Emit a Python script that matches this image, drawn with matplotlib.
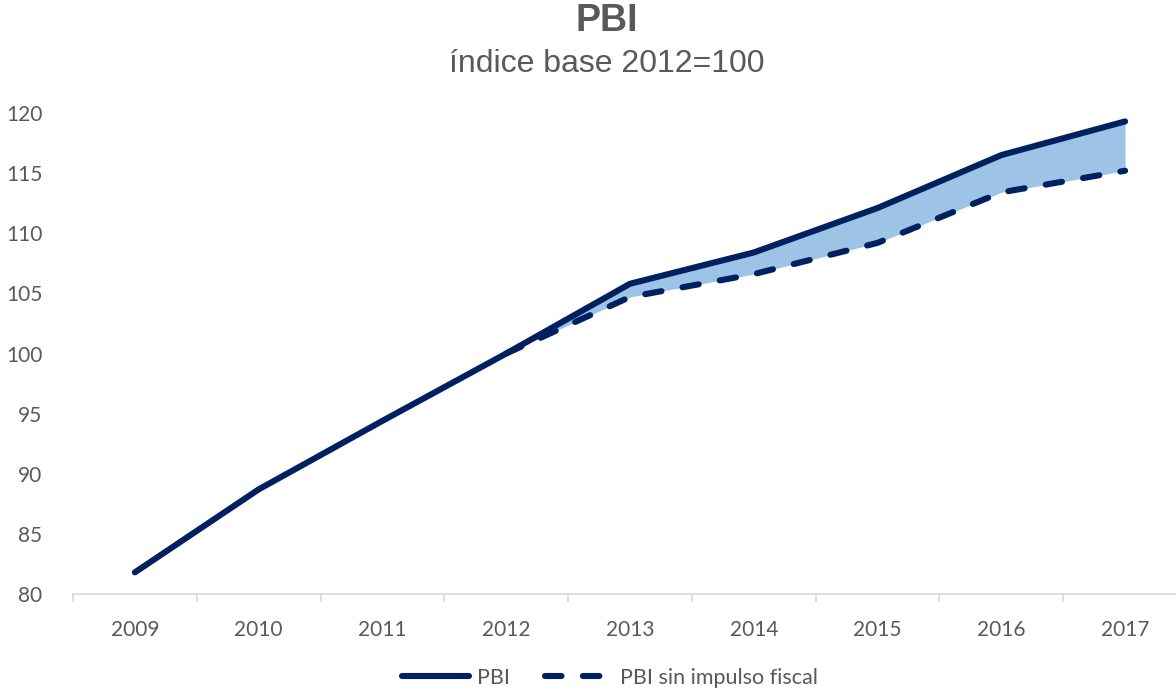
import matplotlib.pyplot as plt

years = ["2009", "2010", "2011", "2012", "2013", "2014", "2015", "2016", "2017"]
pbi = [81.8, 88.7, 94.4, 100.0, 105.8, 108.4, 112.1, 116.5, 119.3]
years_sin = ["2012", "2013", "2014", "2015", "2016", "2017"]
pbi_sin = [100.0, 104.7, 106.6, 109.2, 113.4, 115.2]

navy = "#002060"
fill_col = "#9DC3E6"
grey = "#595959"

plt.rcParams['font.family'] = ['Lato', 'DejaVu Sans']

fig = plt.figure(figsize=(11.76, 6.89), dpi=100)
ax = fig.add_axes([73 / 1176, 95 / 689, 1114 / 1176, 481 / 689])

x = list(range(len(years)))
x_sin = [years.index(y) for y in years_sin]
pbi_part = [pbi[i] for i in x_sin]

ax.fill_between(x_sin, pbi_sin, pbi_part, color=fill_col, lw=0)
ax.plot(x, pbi, color=navy, lw=4.4, solid_capstyle='round', label="PBI")
ax.plot(x_sin, pbi_sin, color=navy, lw=4.4, dashes=(2.7, 3.5),
        dash_capstyle='round', label="PBI sin impulso fiscal")

ax.set_xlim(-0.5, len(years) - 0.5)
ax.set_ylim(80, 120)
ax.set_yticks(range(80, 121, 5))

ax.set_xticks([i + 0.5 for i in range(-1, len(years))])
ax.set_xticklabels([])
ax.set_xticks(x, minor=True)
ax.set_xticklabels(years, minor=True)
ax.tick_params(axis='x', which='major', length=6, color="#D9D9D9", width=1.2)
ax.tick_params(axis='x', which='minor', length=0, pad=19, labelsize=15, labelcolor=grey)
ax.tick_params(axis='y', length=0, pad=22, labelsize=15, labelcolor=grey)

for s in ["top", "right", "left"]:
    ax.spines[s].set_visible(False)
ax.spines["bottom"].set_color("#D9D9D9")
ax.spines["bottom"].set_linewidth(1.2)

fig.text(607 / 1176, 1 - 21 / 689, "PBI", ha='center', va='center', fontsize=27,
         fontweight='bold', color=grey, family=['Liberation Sans', 'DejaVu Sans'])
fig.text(607 / 1176, 1 - 64 / 689, "índice base 2012=100", ha='center', va='center',
         fontsize=23, color=grey, family=['Liberation Sans', 'DejaVu Sans'])

leg = fig.legend(loc='center', bbox_to_anchor=(610 / 1176, 1 - 678 / 689), ncol=2,
                 frameon=False, fontsize=15.5, handlelength=3.1, columnspacing=1.6,
                 handletextpad=0.4, labelcolor=grey)

fig.savefig("out.png", dpi=100)
